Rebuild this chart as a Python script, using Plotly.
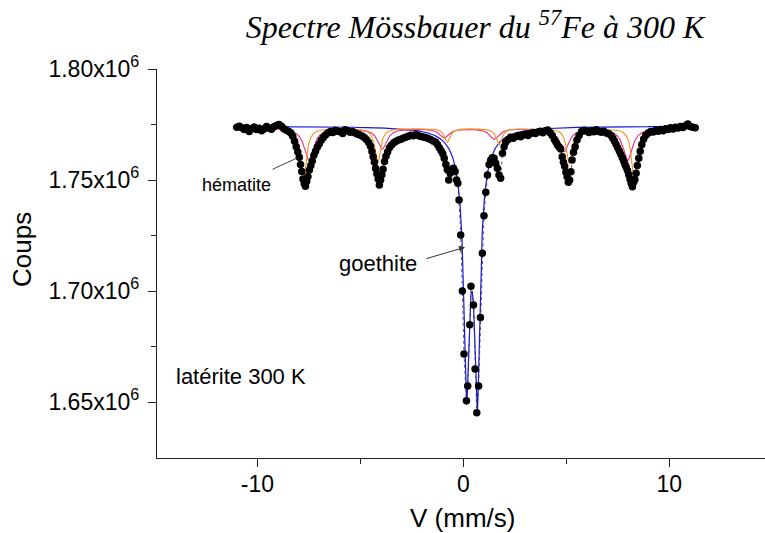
import numpy as np
import plotly.graph_objects as go

# ---- measured spectrum (velocity in mm/s, counts in units of 1e6) ----
velocity = [
    -11.00, -10.88, -10.76, -10.64, -10.52, -10.40, -10.28, -10.16, -10.04, -9.92,
    -9.80, -9.68, -9.56, -9.44, -9.32, -9.20, -9.08, -8.96, -8.84, -8.72,
    -8.60, -8.48, -8.38, -8.29, -8.20, -8.12, -8.04, -7.97, -7.91, -7.85,
    -7.79, -7.73, -7.67, -7.61, -7.55, -7.48, -7.41, -7.34, -7.26, -7.18,
    -7.09, -7.00, -6.90, -6.80, -6.70, -6.58, -6.46, -6.34, -6.22, -6.10,
    -5.98, -5.86, -5.74, -5.62, -5.50, -5.38, -5.26, -5.14, -5.02, -4.90,
    -4.80, -4.70, -4.60, -4.51, -4.44, -4.38, -4.32, -4.26, -4.20, -4.14,
    -4.08, -4.02, -3.96, -3.90, -3.83, -3.76, -3.68, -3.59, -3.49, -3.38,
    -3.27, -3.15, -3.03, -2.91, -2.79, -2.67, -2.55, -2.43, -2.31, -2.19,
    -2.07, -1.95, -1.83, -1.71, -1.59, -1.47, -1.36, -1.26, -1.17, -1.08,
    -1.00, -0.93, -0.85, -0.78, -0.71, -0.64, -0.56, -0.48, -0.40, -0.33,
    -0.27, -0.21, -0.13, -0.05, 0.03, 0.15, 0.21, 0.31, 0.37, 0.49,
    0.57, 0.65, 0.74, 0.83, 0.92, 1.00, 1.09, 1.17, 1.25, 1.33,
    1.41, 1.49, 1.57, 1.65, 1.73, 1.81, 1.90, 1.98, 2.06, 2.18,
    2.30, 2.42, 2.54, 2.66, 2.78, 2.90, 3.02, 3.14, 3.26, 3.38,
    3.50, 3.62, 3.74, 3.86, 3.98, 4.10, 4.22, 4.32, 4.42, 4.50,
    4.58, 4.66, 4.73, 4.80, 4.86, 4.92, 4.98, 5.04, 5.10, 5.16,
    5.22, 5.28, 5.35, 5.43, 5.52, 5.62, 5.74, 5.86, 5.98, 6.10,
    6.22, 6.34, 6.46, 6.58, 6.70, 6.82, 6.94, 7.06, 7.17, 7.26,
    7.34, 7.42, 7.50, 7.58, 7.65, 7.72, 7.79, 7.85, 7.91, 7.97,
    8.03, 8.09, 8.15, 8.21, 8.27, 8.33, 8.39, 8.45, 8.52, 8.59,
    8.67, 8.76, 8.86, 8.98, 9.10, 9.22, 9.34, 9.46, 9.58, 9.70,
    9.82, 9.94, 10.06, 10.18, 10.30, 10.42, 10.54, 10.66, 10.78, 10.90,
    11.02, 11.14, 11.26,
]
coups_millions = [
    1.7738, 1.7742, 1.7735, 1.7728, 1.7737, 1.7719, 1.7731, 1.7739, 1.7727, 1.7733,
    1.7722, 1.7730, 1.7741, 1.7734, 1.7729, 1.7740, 1.7746, 1.7750, 1.7743, 1.7731,
    1.7724, 1.7718, 1.7712, 1.7697, 1.7675, 1.7650, 1.7626, 1.7603, 1.7570, 1.7538,
    1.7505, 1.7484, 1.7472, 1.7495, 1.7516, 1.7545, 1.7565, 1.7586, 1.7612, 1.7630,
    1.7649, 1.7662, 1.7679, 1.7692, 1.7703, 1.7712, 1.7718, 1.7714, 1.7724, 1.7720,
    1.7717, 1.7709, 1.7726, 1.7722, 1.7715, 1.7719, 1.7712, 1.7706, 1.7703, 1.7697,
    1.7690, 1.7681, 1.7669, 1.7652, 1.7628, 1.7605, 1.7580, 1.7552, 1.7528, 1.7505,
    1.7478, 1.7500, 1.7524, 1.7548, 1.7583, 1.7607, 1.7626, 1.7645, 1.7658, 1.7668,
    1.7675, 1.7680, 1.7684, 1.7689, 1.7693, 1.7697, 1.7702, 1.7699, 1.7705, 1.7700,
    1.7696, 1.7694, 1.7691, 1.7687, 1.7683, 1.7676, 1.7671, 1.7660, 1.7645, 1.7632,
    1.7618, 1.7598, 1.7570, 1.7546, 1.7500, 1.7530, 1.7548, 1.7553, 1.7538, 1.7500,
    1.7485, 1.7410, 1.7252, 1.7000, 1.6716, 1.6506, 1.6572, 1.6848, 1.7022, 1.6937,
    1.6649, 1.6452, 1.6572, 1.6881, 1.7170, 1.7339, 1.7445, 1.7523, 1.7570, 1.7590,
    1.7600, 1.7598, 1.7575, 1.7553, 1.7523, 1.7508, 1.7620, 1.7650, 1.7670, 1.7682,
    1.7693, 1.7688, 1.7696, 1.7700, 1.7695, 1.7703, 1.7706, 1.7700, 1.7710, 1.7714,
    1.7709, 1.7716, 1.7720, 1.7713, 1.7722, 1.7725, 1.7712, 1.7700, 1.7683, 1.7670,
    1.7657, 1.7648, 1.7640, 1.7605, 1.7580, 1.7562, 1.7535, 1.7515, 1.7490, 1.7500,
    1.7537, 1.7590, 1.7625, 1.7650, 1.7680, 1.7700, 1.7718, 1.7724, 1.7720, 1.7714,
    1.7722, 1.7717, 1.7726, 1.7719, 1.7715, 1.7720, 1.7712, 1.7708, 1.7700, 1.7688,
    1.7675, 1.7660, 1.7645, 1.7630, 1.7615, 1.7600, 1.7585, 1.7570, 1.7558, 1.7543,
    1.7525, 1.7505, 1.7485, 1.7470, 1.7490, 1.7502, 1.7530, 1.7565, 1.7598, 1.7630,
    1.7660, 1.7685, 1.7702, 1.7712, 1.7718, 1.7716, 1.7724, 1.7720, 1.7727, 1.7722,
    1.7731, 1.7728, 1.7735, 1.7730, 1.7738, 1.7734, 1.7741, 1.7737, 1.7744, 1.7752,
    1.7741, 1.7738, 1.7735,
]

# ---- fitted components (Lorentzian lines) ----
baseline_goethite = 1.7742
goethite_centres = [0.15, 0.68, 0.415]
goethite_depths = [0.095, 0.098, 0.0274]
goethite_hwhm = [0.15, 0.15, 0.60]

baseline_sextets = 1.7733
hematite_a_centres = [-7.76, -4.16, -0.78, 1.73, 5.14, 8.30]
hematite_a_depths = [0.0235, 0.0155, 0.0062, 0.0075, 0.0158, 0.0230]
hematite_a_hwhm = 0.16
hematite_b_centres = [-7.50, -3.94, -0.94, 1.49, 4.90, 7.98]
hematite_b_depths = [0.0145, 0.0093, 0.0042, 0.0048, 0.0105, 0.0145]
hematite_b_hwhm = 0.27

title_text = "<i>Spectre Mössbauer du <sup>57</sup>Fe à 300 K</i>"
y_tick_values = [1.65, 1.70, 1.75, 1.80]
y_tick_labels = ["1.65x10<sup>6</sup>", "1.70x10<sup>6</sup>", "1.75x10<sup>6</sup>", "1.80x10<sup>6</sup>"]
x_tick_values = [-10, 0, 10]
x_tick_labels = ["-10", "0", "10"]


def lorentz_sum(x, base, centres, depths, widths):
    y = np.full_like(x, base)
    for c, d, w in zip(centres, depths, widths):
        y -= d * w ** 2 / ((x - c) ** 2 + w ** 2)
    return y


xf = np.linspace(-11.2, 11.4, 3000)
goethite_curve = lorentz_sum(xf, baseline_goethite, goethite_centres, goethite_depths, goethite_hwhm)
hem_a_curve = lorentz_sum(xf, baseline_sextets, hematite_a_centres, hematite_a_depths,
                          [hematite_a_hwhm] * len(hematite_a_centres))
hem_b_curve = lorentz_sum(xf, baseline_sextets, hematite_b_centres, hematite_b_depths,
                          [hematite_b_hwhm] * len(hematite_b_centres))

fig = go.Figure()
fig.add_trace(go.Scatter(x=xf, y=goethite_curve, mode="lines",
                         line=dict(color="#1515e0", width=1.2), hoverinfo="skip"))
fig.add_trace(go.Scatter(x=xf, y=hem_b_curve, mode="lines",
                         line=dict(color="#ee2a8a", width=1.1), hoverinfo="skip"))
fig.add_trace(go.Scatter(x=xf, y=hem_a_curve, mode="lines",
                         line=dict(color="#f7941d", width=1.1), hoverinfo="skip"))
fig.add_trace(go.Scatter(x=velocity, y=coups_millions, mode="lines+markers",
                         line=dict(color="#333333", width=0.8, dash="dot"),
                         marker=dict(color="black", size=7.5)))

tickfont = dict(family="Liberation Sans, Arial", size=23, color="black")
fig.update_layout(
    width=765, height=533,
    margin=dict(l=157, r=0, t=69, b=75),
    paper_bgcolor="white", plot_bgcolor="white",
    showlegend=False,
    title=dict(text=title_text, x=0.621, xanchor="center", xref="container",
               y=0.949, yanchor="middle", yref="container",
               font=dict(family="Liberation Serif, Times New Roman", size=32, color="black")),
    xaxis=dict(range=[-14.88, 14.65], showgrid=False, zeroline=False,
               showline=True, linecolor="#222222", linewidth=1.3,
               ticks="outside", ticklen=8, tickwidth=1.2, tickcolor="#222222",
               tickvals=x_tick_values, ticktext=x_tick_labels, tickfont=tickfont,
               ticklabelstandoff=-3,
               minor=dict(tickvals=[-5, 5], ticks="outside", ticklen=5,
                          tickwidth=1.2, tickcolor="#222222")),
    yaxis=dict(range=[1.6248, 1.80], showgrid=False, zeroline=False,
               showline=True, linecolor="#222222", linewidth=1.3,
               ticks="outside", ticklen=8, tickwidth=1.2, tickcolor="#222222",
               tickvals=y_tick_values, ticktext=y_tick_labels, tickfont=tickfont,
               ticklabelstandoff=4,
               minor=dict(tickvals=[1.675, 1.725, 1.775], ticks="outside", ticklen=5,
                          tickwidth=1.2, tickcolor="#222222")),
)

fig.add_annotation(text="Coups", xref="paper", yref="paper", x=-0.222, y=0.535,
                   xanchor="center", yanchor="middle",
                   textangle=-90, showarrow=False,
                   font=dict(family="Liberation Sans, Arial", size=26, color="black"))
fig.add_annotation(text="V (mm/s)", xref="paper", yref="paper", x=0.502, y=-0.154,
                   xanchor="center", yanchor="middle", showarrow=False,
                   font=dict(family="Liberation Sans, Arial", size=26, color="black"))
fig.add_annotation(text="latérite 300 K", x=-14.06, y=1.6617, xanchor="left",
                   yanchor="middle", showarrow=False,
                   font=dict(family="Liberation Sans, Arial", size=22, color="black"))
fig.add_annotation(text="hématite", x=-11.04, y=1.7477, showarrow=False,
                   xanchor="center", yanchor="middle",
                   font=dict(family="Liberation Sans, Arial", size=18, color="black"))
fig.add_annotation(text="", x=-8.08, y=1.7599, ax=-9.34, ay=1.7545,
                   axref="x", ayref="y", showarrow=True, arrowhead=0,
                   arrowwidth=1, arrowcolor="#444444")
fig.add_annotation(text="goethite", x=-4.15, y=1.7122, showarrow=False,
                   xanchor="center", yanchor="middle",
                   font=dict(family="Liberation Sans, Arial", size=22, color="black"))
fig.add_annotation(text="", x=0.08, y=1.7197, ax=-1.87, ay=1.7144,
                   axref="x", ayref="y", showarrow=True, arrowhead=2, arrowsize=1.2,
                   arrowwidth=1, arrowcolor="#333333")

# remove the browser's default page margin so the figure fills the window exactly
fig.write_html("out.html",
               config={"displayModeBar": False},
               post_script="document.body.style.margin='0';document.body.style.overflow='hidden';")
